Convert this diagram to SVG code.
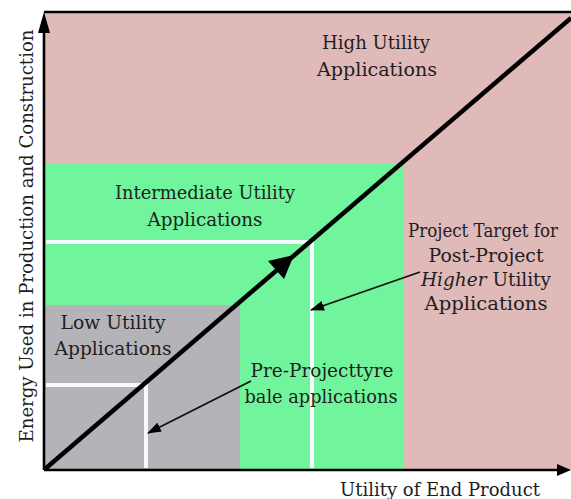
<svg xmlns="http://www.w3.org/2000/svg" width="571" height="499" viewBox="0 0 571 499">
<style>
text{font-family:"DejaVu Serif","Liberation Serif",serif;font-size:19px;fill:#1e1e1e;text-anchor:middle}
.axis{stroke:#000;stroke-width:2.6;fill:none}
.white{stroke:#f6f9ff;stroke-width:4;fill:none}
.ptr{stroke:#111;stroke-width:1.8;fill:none;marker-end:url(#ah)}
</style>
<defs>
<marker id="ah" viewBox="0 0 14 10" refX="13" refY="5" markerWidth="14" markerHeight="10" markerUnits="userSpaceOnUse" orient="auto">
<path d="M0,0 L14,5 L0,10 Z" fill="#000"/>
</marker>
</defs>
<rect width="571" height="499" fill="#fff"/>
<g id="region-high">
<rect x="44" y="12" width="527" height="458" fill="#e0b9b9"/>
<text x="376" y="49" textLength="108" lengthAdjust="spacingAndGlyphs">High Utility</text>
<text x="377" y="76" textLength="120" lengthAdjust="spacingAndGlyphs">Applications</text>
</g>
<g id="region-intermediate">
<rect x="44" y="163" width="359" height="307" fill="#70f59c"/>
<text x="205" y="199" textLength="180" lengthAdjust="spacingAndGlyphs">Intermediate Utility</text>
<text x="205" y="226" textLength="115" lengthAdjust="spacingAndGlyphs">Applications</text>
</g>
<g id="region-low">
<rect x="44" y="305" width="196" height="165" fill="#b4b3b8"/>
<text x="113" y="329" textLength="105" lengthAdjust="spacingAndGlyphs">Low Utility</text>
<text x="113" y="355" textLength="117" lengthAdjust="spacingAndGlyphs">Applications</text>
</g>
<g id="pre-project-markers">
<path class="white" d="M46,242 H312 V468"/>
<path class="white" d="M46,385 H146 V468"/>
</g>
<g id="label-target">
<text x="483" y="237" font-size="16.5" textLength="150" lengthAdjust="spacingAndGlyphs">Project Target for</text>
<text x="486" y="262" textLength="115" lengthAdjust="spacingAndGlyphs">Post-Project</text>
<text x="486" y="286" textLength="130" lengthAdjust="spacingAndGlyphs"><tspan font-style="italic">Higher</tspan> Utility</text>
<text x="486" y="310" textLength="123" lengthAdjust="spacingAndGlyphs">Applications</text>
</g>
<g id="label-preproject">
<text x="322" y="377" textLength="143" lengthAdjust="spacingAndGlyphs">Pre-Projecttyre</text>
<text x="321" y="403" textLength="153" lengthAdjust="spacingAndGlyphs">bale applications</text>
</g>
<g id="axes">
<path class="axis" d="M44,12 H571"/>
<path class="axis" d="M44,470 V30"/>
<polygon points="44,12 38,33 50,33" fill="#000"/>
<path class="axis" d="M44,470 H558"/>
<polygon points="571,470 557,464 557,476" fill="#000"/>
<text x="27" y="236" transform="rotate(-90 27 236)" dy="6" textLength="413" lengthAdjust="spacingAndGlyphs">Energy Used in Production and Construction</text>
<text x="440" y="496" textLength="200" lengthAdjust="spacingAndGlyphs">Utility of End Product</text>
</g>
<g id="connectors">
<path d="M45,469 L571,18" stroke="#000" stroke-width="4.5" fill="none"/>
<polygon points="294,255 284,279 268,261" fill="#000"/>
<path class="ptr" d="M420,272 L311,310"/>
<path class="ptr" d="M251,381 L148,433"/>
</g>
</svg>
